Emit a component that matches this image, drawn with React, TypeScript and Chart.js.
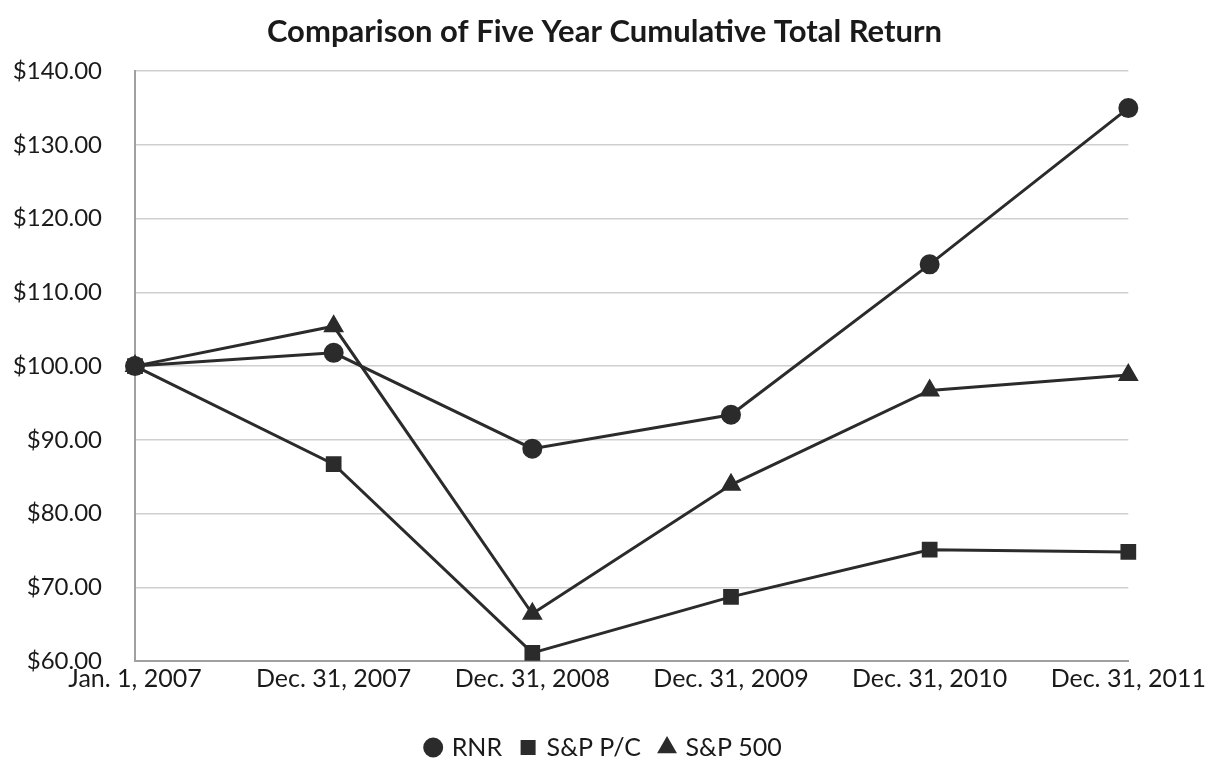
import React, { useEffect, useRef } from "react";
import { Chart, registerables } from "chart.js";

Chart.register(...registerables);

const categories = ["Jan. 1, 2007", "Dec. 31, 2007", "Dec. 31, 2008", "Dec. 31, 2009", "Dec. 31, 2010", "Dec. 31, 2011"];
const rnr = [100, 101.8, 88.8, 93.4, 113.8, 135.0];
const spPC = [100, 86.7, 61.1, 68.7, 75.1, 74.8];
const sp500 = [100, 105.4, 66.4, 83.9, 96.7, 98.8];
const yTicks = [60, 70, 80, 90, 100, 110, 120, 130, 140];

const FONT = "Lato, 'Open Sans', sans-serif";
const LINE = "#2b2b2b";
const TXT = "#1a1a1a";

export default function App() {
  const ref = useRef<HTMLCanvasElement>(null);
  useEffect(() => {
    document.body.style.margin = "0";
    const ctx = ref.current!;
    const chart = new Chart(ctx, {
      type: "line",
      data: {
        labels: categories,
        datasets: [
          { label: "RNR", data: rnr, pointStyle: "circle", pointRadius: 8.5 },
          { label: "S&P P/C", data: spPC, pointStyle: "rect", pointRadius: 9 },
          { label: "S&P 500", data: sp500, pointStyle: "triangle", pointRadius: 9 },
        ].map((d) => ({
          ...d,
          borderColor: LINE,
          backgroundColor: LINE,
          pointBackgroundColor: LINE,
          pointBorderColor: LINE,
          borderWidth: 3,
          tension: 0,
        })),
      },
      options: {
        animation: false,
        responsive: false,
        layout: { padding: { left: 10, right: 10, top: 13, bottom: -8 } },
        plugins: {
          title: {
            display: true,
            text: "Comparison of Five Year Cumulative Total Return",
            color: TXT,
            font: { family: FONT, size: 31, weight: "bold" },
            padding: { top: 0, bottom: 21 },
          },
          legend: {
            position: "bottom",
            labels: {
              usePointStyle: true,
              boxWidth: 12,
              boxHeight: 12,
              padding: 20,
              color: TXT,
              font: { family: FONT, size: 25 },
            },
          },
          tooltip: { enabled: false },
        },
        scales: {
          x: {
            type: "category",
            offset: false,
            afterFit: (s: any) => { s.height = 54; },
            grid: { display: false, drawTicks: false },
            border: { color: "#a0a0a0", width: 2 },
            ticks: { color: TXT, font: { family: FONT, size: 25 }, padding: 3, maxRotation: 0, autoSkip: false },
          },
          y: {
            min: 60,
            max: 140,
            afterFit: (s: any) => { s.width = 125; },
            afterBuildTicks: (s: any) => { s.ticks = yTicks.map((v) => ({ value: v })); },
            grid: { color: "#cfcfcf", lineWidth: 1.5, drawTicks: false },
            border: { color: "#a0a0a0", width: 2 },
            ticks: {
              color: TXT,
              font: { family: FONT, size: 24 },
              padding: 33,
              callback: (v: any) => "$" + Number(v).toFixed(2),
            },
          },
          yRight: {
            type: "linear",
            position: "right",
            display: true,
            afterFit: (s: any) => { s.width = 69; },
            grid: { display: false, drawTicks: false },
            border: { display: false },
            ticks: { display: false },
          },
        },
      },
    });
    return () => chart.destroy();
  }, []);
  return <canvas ref={ref} width={1209} height={762} style={{ display: "block" }} />;
}
